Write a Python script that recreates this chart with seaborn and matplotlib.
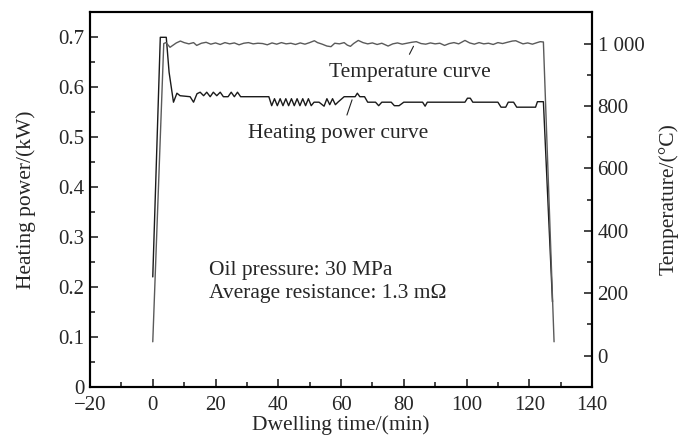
import pandas as pd
import seaborn as sns
import matplotlib.pyplot as plt
from matplotlib.ticker import MultipleLocator, FuncFormatter

# Heating power curve (kW, left axis)
power_time = [0, 2.4, 4.3, 5.2, 6.6, 7.7, 8.7, 11.9, 13.0, 14.1, 15.1, 16.2, 17.2, 18.3, 19.3,
              20.4, 21.5, 22.5, 24.0, 25.0, 26.0, 27.0, 28.0, 28.6, 37.0, 37.9, 38.8, 39.7,
              40.6, 41.5, 42.4, 43.3, 44.2, 45.1, 46.0, 46.9, 47.8, 48.7, 49.6, 50.5, 51.4,
              53.0, 54.6, 55.5, 56.4, 57.3, 58.2, 59.0, 61.0, 64.5, 65.2, 66.0, 67.5, 68.5,
              71.0, 72.0, 73.0, 76.0, 77.0, 78.5, 80.0, 86.0, 86.8, 87.5, 99.5, 100.3, 101.2,
              102.0, 110.0, 111.0, 112.5, 113.3, 115.0, 116.0, 117.5, 118.5, 122.0, 122.6,
              124.5, 127.4]
power_kw = [0.22, 0.70, 0.70, 0.63, 0.57, 0.588, 0.583, 0.581, 0.570, 0.587, 0.590, 0.583,
            0.590, 0.581, 0.590, 0.583, 0.590, 0.581, 0.581, 0.590, 0.581, 0.590, 0.581, 0.581,
            0.581, 0.563, 0.577, 0.563, 0.577, 0.563, 0.577, 0.563, 0.577, 0.563, 0.577,
            0.563, 0.577, 0.563, 0.577, 0.563, 0.570, 0.570, 0.562, 0.577, 0.565, 0.577,
            0.565, 0.570, 0.581, 0.581, 0.588, 0.581, 0.581, 0.570, 0.570, 0.563, 0.570,
            0.570, 0.563, 0.563, 0.570, 0.570, 0.562, 0.570, 0.570, 0.578, 0.578, 0.570,
            0.570, 0.560, 0.560, 0.570, 0.570, 0.560, 0.560, 0.560, 0.560, 0.571, 0.571, 0.17]

# Temperature curve (degC, right axis)
temp_time = [0, 3.5, 4.2, 5.5, 6.5, 7.5, 8.8, 10, 11.5, 13, 14, 15.5, 17, 18.5, 20, 21.5, 23,
             24.5, 26, 27.5, 29, 30.5, 32, 33.5, 35, 36.5, 38, 39.5, 41, 42.5, 44, 45.5, 47,
             48.5, 50, 51.5, 52.5, 54, 55.5, 56.8, 58, 59.5, 61, 62, 63, 64, 65.5, 67, 68.5,
             70, 71.5, 73, 75, 76.5, 78, 79.5, 81, 82.5, 84, 85.5, 87, 88.5, 90, 91.5, 93,
             94.5, 96, 97.5, 99.5, 101, 102.5, 104, 105.5, 107, 108.5, 110, 111.5, 113,
             114.6, 115.7, 116.8, 118, 119.5, 121, 122.5, 123.5, 124.5, 127.9]
temp_c = [44, 1000, 1003, 988, 995, 1002, 1008, 1003, 999, 1003, 994, 1001, 1004, 998, 1002,
          997, 1003, 999, 1002, 996, 1001, 1003, 999, 1001, 1000, 996, 1002, 998, 1003, 999,
          1001, 997, 1002, 998, 1003, 1009, 1003, 998, 992, 990, 1001, 999, 1003, 995, 991,
          1000, 1010, 1003, 999, 1002, 997, 1001, 992, 999, 1002, 998, 1001, 1004, 1006,
          1000, 998, 1002, 999, 1001, 994, 1000, 1003, 999, 1010, 1002, 998, 1003, 999,
          1001, 997, 1003, 1000, 1004, 1008, 1009, 1004, 999, 1002, 998, 1003, 1006, 1005, 44]

power_df = pd.DataFrame({'time': power_time, 'power': power_kw})
temp_df = pd.DataFrame({'time': temp_time, 'temp': temp_c})

sns.set_style('ticks')
plt.rcParams['font.family'] = ['Liberation Serif', 'DejaVu Serif']
fs = 15.5
tfs = 15

fig = plt.figure(figsize=(6.83, 4.41), dpi=100)
ax = fig.add_axes([0.1318, 0.1231, 0.735, 0.8489])
ax2 = ax.twinx()

sns.lineplot(data=power_df, x='time', y='power', ax=ax, color='#1a1a1a', lw=1.0,
             sort=False, estimator=None)
sns.lineplot(data=temp_df, x='time', y='temp', ax=ax2, color='#5a5a5a', lw=1.0,
             sort=False, estimator=None)

ax.set_xlim(-20, 140)
ax.set_ylim(0, 0.75)
ax2.set_ylim(-100, 1100)

ax.xaxis.set_major_locator(MultipleLocator(20))
ax.xaxis.set_minor_locator(MultipleLocator(10))
ax.yaxis.set_major_locator(MultipleLocator(0.1))
ax.yaxis.set_minor_locator(MultipleLocator(0.05))
ax2.yaxis.set_minor_locator(MultipleLocator(100))
ax2.set_yticks([0, 200, 400, 600, 800, 1000])
ax2.yaxis.set_major_formatter(FuncFormatter(lambda v, p: f'{v:,.0f}'.replace(',', ' ')))
ax.xaxis.set_major_formatter(FuncFormatter(lambda v, p: f'{v:.0f}'.replace('-', '\u2212')))
ax.yaxis.set_major_formatter(FuncFormatter(lambda v, p: '0' if v == 0 else f'{v:.1f}'))

for a in (ax, ax2):
    a.tick_params(which='major', direction='in', length=6, width=1.2, labelsize=tfs, pad=4)
    a.tick_params(which='minor', direction='in', length=3.5, width=1.2)
    for s in a.spines.values():
        s.set_linewidth(1.5)
        s.set_visible(True)
        s.set_color('black')
ax.tick_params(axis='x', which='major', pad=7)

ax.set_xlabel('Dwelling time/(min)', fontsize=fs, labelpad=0)
ax.set_ylabel('Heating power/(kW)', fontsize=fs, labelpad=16)
ax2.set_ylabel('Temperature/(\u00b0C)', fontsize=fs, labelpad=10)

# curve labels with pointer lines
ax.text(56.3, 0.63, 'Temperature curve', fontsize=fs, ha='left', va='center')
ax.annotate('', xy=(83.5, 0.687), xytext=(81.4, 0.661),
            arrowprops=dict(arrowstyle='-', lw=0.8, color='#222'))
ax.text(30.2, 0.507, 'Heating power curve', fontsize=fs, ha='left', va='center')
ax.annotate('', xy=(63.8, 0.58), xytext=(61.6, 0.539),
            arrowprops=dict(arrowstyle='-', lw=0.8, color='#222'))

ax.text(17.8, 0.233, 'Oil pressure: 30 MPa', fontsize=fs, ha='left', va='center')
ax.text(17.8, 0.187, 'Average resistance: 1.3 m\u03a9', fontsize=fs, ha='left', va='center')

fig.savefig('out.png', dpi=100)
